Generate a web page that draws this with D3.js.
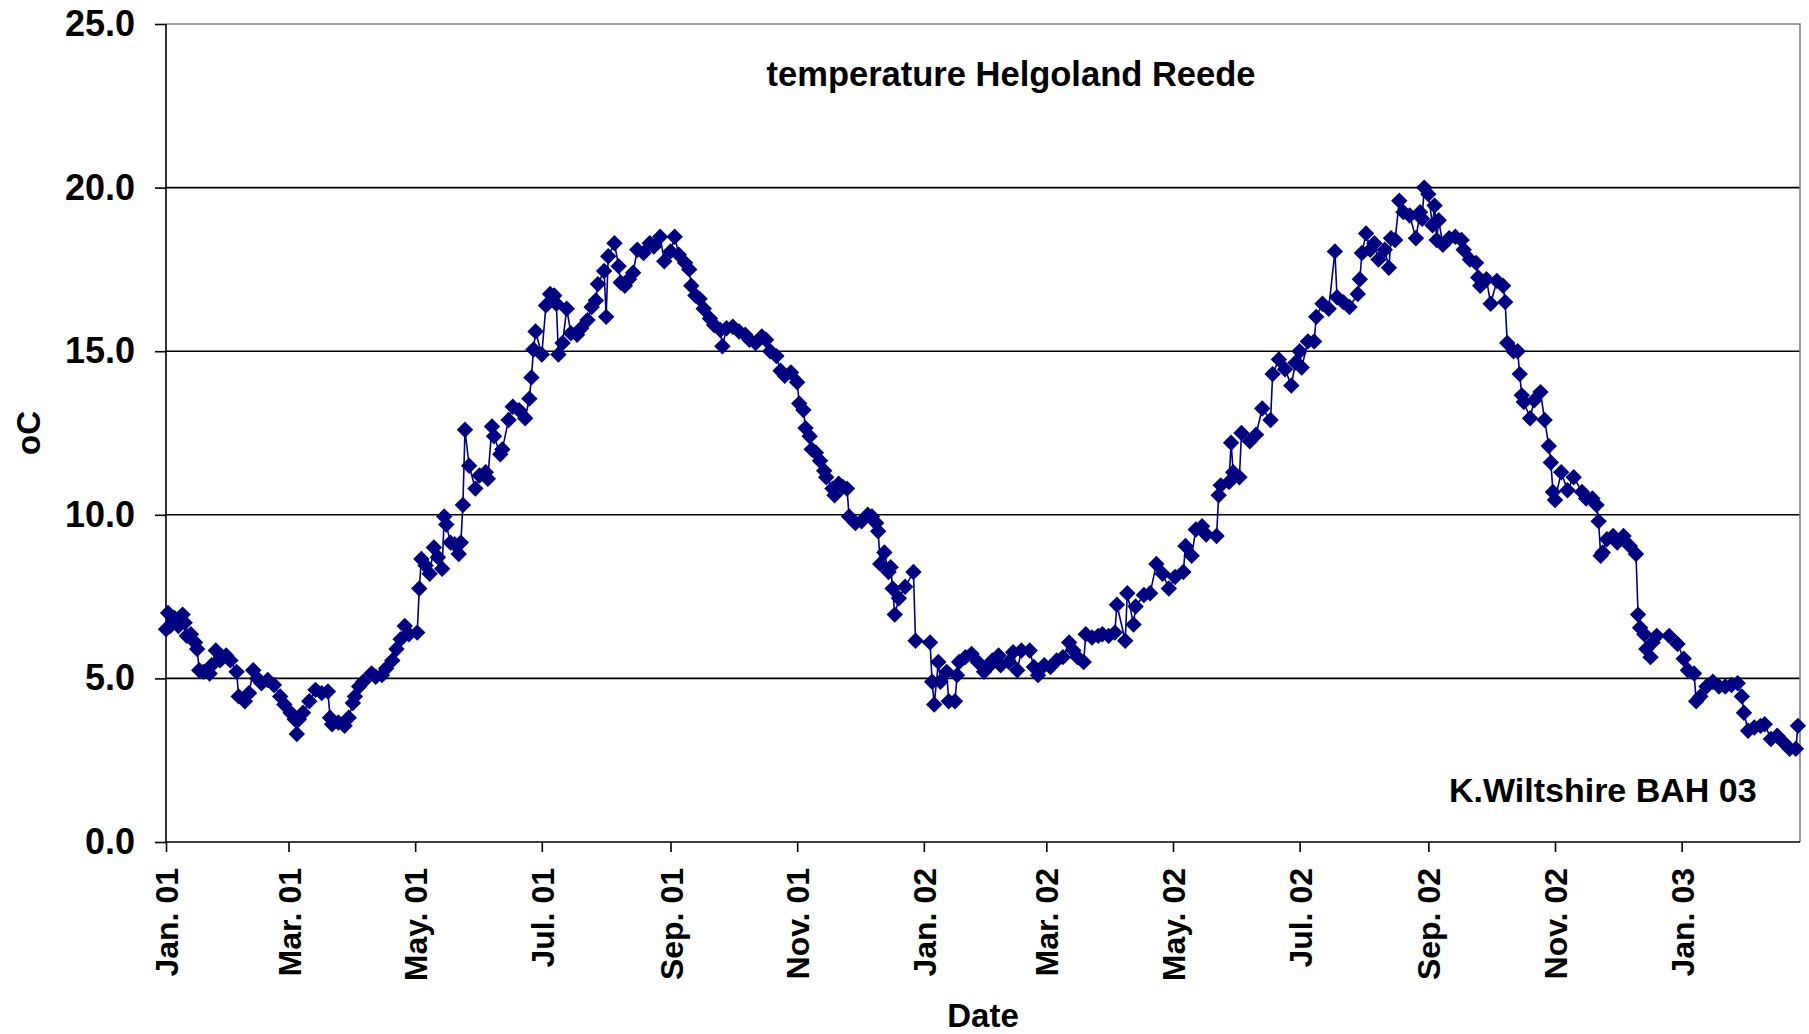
<!DOCTYPE html>
<html>
<head>
<meta charset="utf-8">
<script src="https://cdn.jsdelivr.net/npm/d3@7"></script>
<style>
  html, body { margin: 0; padding: 0; background: #fff; }
  svg { display: block; font-family: "Liberation Sans", Arial, sans-serif; font-weight: bold; }
</style>
</head>
<body>
<div id="chart"></div>
<script>
// days since 1 Jan 2001 and water temperature in oC
const sampleDay = [
  0,1,2,4,6,8,9,10,12,14,15,16,18,21,22,24,26,29,31,34,35,38,40,42,44,46,49,52,55,57,
  60,62,63,64,66,69,72,75,78,79,80,83,86,88,90,91,93,95,99,101,104,106,109,111,113,115,117,
  121,122,123,125,127,129,131,133,134,135,137,139,141,142,143,144,146,149,151,154,155,157,158,
  161,162,165,167,170,173,175,176,177,178,181,183,185,187,188,189,191,193,195,198,200,203,205,
  207,208,211,212,213,216,218,219,221,223,225,
  227,230,233,235,238,240,243,245,247,250,252,253,255,257,259,262,264,267,268,270,273,276,279,
  281,284,287,289,291,294,296,298,301,304,305,307,308,310,311,313,315,317,318,321,322,324,326,
  328,329,332,335,338,
  340,342,343,344,346,348,349,350,351,353,356,360,361,368,369,370,372,373,376,377,380,381,382,
  385,388,391,394,396,398,401,402,406,408,410,412,416,418,420,423,426,429,432,435,437,439,442,
  443,446,449,
  451,454,457,458,462,463,466,467,471,474,477,480,483,486,490,491,494,496,499,501,506,507,508,
  512,513,514,517,518,522,525,528,532,533,536,539,542,544,546,547,550,553,554,557,560,563,
  564,567,570,574,575,576,578,580,582,584,587,589,590,592,594,596,599,602,604,605,606,608,610,
  611,612,613,615,618,621,624,625,628,631,632,633,636,638,641,644,645,646,649,651,652,653,654,
  657,659,662,664,666,667,668,669,672,675,678,
  682,684,687,689,690,691,692,694,697,699,702,705,708,709,710,712,713,715,716,718,724,728,731,
  733,736,737,739,742,745,748,751,754,757,759,760,762,765,768,770,773,776,779,782,785,786
];
const tempC = [
  6.5,7.0,6.6,6.85,6.6,6.95,6.7,6.3,6.35,6.1,5.9,5.25,5.2,5.15,5.4,5.85,5.55,5.7,5.55,5.2,4.45,4.3,4.55,5.25,5.0,4.85,4.95,4.8,4.45,4.2,
  3.95,3.75,3.3,3.75,3.95,4.3,4.65,4.55,4.6,3.8,3.6,3.65,3.55,3.8,4.25,4.45,4.75,4.9,5.15,5.05,5.1,5.3,5.55,5.9,6.2,6.6,6.35,
  6.4,7.75,8.65,8.45,8.2,9.0,8.7,8.35,9.95,9.7,9.15,9.1,8.8,9.15,10.3,12.6,11.5,10.8,11.2,11.3,11.1,12.7,12.4,
  11.85,12.0,12.9,13.3,13.2,12.95,13.55,14.2,15.05,15.6,14.9,16.4,16.75,16.7,16.45,14.9,15.25,16.3,15.55,15.5,15.7,15.95,16.35,
  16.55,17.05,17.45,16.05,17.9,18.3,17.6,17.1,17.0,17.2,17.4,
  18.1,18.0,18.3,18.2,18.5,17.75,18.05,18.5,17.95,17.7,17.5,17.0,16.7,16.6,16.3,16.0,15.8,15.65,15.15,15.7,15.75,15.6,15.5,
  15.35,15.25,15.45,15.35,15.0,14.85,14.4,14.25,14.35,14.05,13.4,13.2,12.65,12.4,12.0,11.9,11.65,11.35,11.15,10.8,10.6,10.95,10.85,
  10.8,9.95,9.75,9.8,10.0,
  9.95,9.75,9.5,8.5,8.85,8.25,8.4,7.75,6.95,7.45,7.8,8.25,6.15,6.1,4.9,4.2,5.5,4.9,5.2,4.3,4.3,5.1,5.5,
  5.65,5.75,5.5,5.2,5.35,5.55,5.7,5.4,5.5,5.8,5.25,5.85,5.85,5.35,5.1,5.4,5.35,5.55,5.65,6.1,5.85,5.65,5.5,
  6.35,6.25,6.3,
  6.35,6.3,6.4,7.25,6.15,7.6,6.65,7.2,7.55,7.6,8.5,8.2,7.75,8.1,8.25,9.05,8.75,9.55,9.65,9.4,9.35,10.6,10.9,
  11.0,12.2,11.3,11.15,12.5,12.25,12.45,13.25,12.9,14.3,14.75,14.45,13.95,14.65,15.0,14.5,15.3,15.3,16.05,16.45,16.3,18.05,
  16.65,16.5,16.35,16.75,17.2,18.0,18.6,18.1,18.3,17.8,18.1,17.55,18.45,18.4,19.6,19.25,19.15,18.45,19.25,19.05,20.0,19.8,18.85,
  19.45,18.4,19.0,18.25,18.45,18.5,18.4,18.1,17.8,17.7,17.25,17.0,17.2,16.45,17.15,17.0,16.5,15.25,15.0,15.0,14.3,13.65,13.45,
  12.95,13.5,13.75,12.9,12.1,11.6,10.7,10.45,11.3,10.75,11.15,
  10.7,10.5,10.5,10.3,9.8,8.75,8.85,9.25,9.35,9.15,9.35,9.05,8.8,6.95,6.55,6.35,5.9,5.65,6.1,6.3,6.3,6.05,5.6,
  5.25,5.15,4.3,4.45,4.75,4.9,4.75,4.75,4.8,4.85,4.45,3.95,3.4,3.5,3.55,3.6,3.15,3.25,3.05,2.85,2.85,3.55
];
const yTicks = [0, 5, 10, 15, 20, 25];
const startDate = new Date(Date.UTC(2001, 0, 1));
const endDate = new Date(Date.UTC(2003, 1, 27));

const data = sampleDay.map((d, i) => ({
  date: new Date(Date.UTC(2001, 0, 1 + d)),
  value: tempC[i]
}));

const width = 1809, height = 1034;
const margin = { top: 24, right: 9, bottom: 192, left: 166 };
const navy = '#000080';

const svg = d3.select('#chart').append('svg').attr('width', width).attr('height', height);
svg.append('rect').attr('width', width).attr('height', height).attr('fill', '#fff');

const x = d3.scaleUtc().domain([startDate, endDate]).range([margin.left, width - margin.right]);
const y = d3.scaleLinear().domain([0, 25]).range([height - margin.bottom, margin.top]);

// gridlines
svg.append('g').selectAll('line').data(yTicks.filter(t => t > 0 && t < 25)).enter().append('line')
  .attr('x1', margin.left).attr('x2', width - margin.right)
  .attr('y1', d => y(d)).attr('y2', d => y(d))
  .attr('stroke', '#000').attr('stroke-width', 1.6);

// plot area border (top + right)
svg.append('path')
  .attr('d', `M${margin.left},${y(25)}H${width - margin.right}V${y(0)}`)
  .attr('fill', 'none').attr('stroke', '#808080').attr('stroke-width', 1.6);

// y axis
const yAxis = svg.append('g').attr('transform', `translate(${margin.left},0)`)
  .call(d3.axisLeft(y).tickValues(yTicks).tickSize(11).tickPadding(20).tickFormat(d3.format('.1f')));
yAxis.selectAll('line, path').attr('stroke', '#000').attr('stroke-width', 1.6);
yAxis.select('.domain').attr('d', `M0,${y(25)}V${y(0)}`);
yAxis.selectAll('text').attr('font-size', 36).attr('font-family', 'Liberation Sans, Arial').attr('font-weight', 'bold').attr('fill', '#000');

// x axis
const xAxis = svg.append('g').attr('transform', `translate(0,${y(0)})`)
  .call(d3.axisBottom(x).ticks(d3.utcMonth.every(2)).tickSize(10).tickFormat(d3.utcFormat('%b. %y')));
xAxis.selectAll('line, path').attr('stroke', '#000').attr('stroke-width', 1.6);
xAxis.select('.domain').attr('d', `M${margin.left},0H${width - margin.right}`);
xAxis.selectAll('text')
  .attr('font-size', 32).attr('font-family', 'Liberation Sans, Arial').attr('font-weight', 'bold').attr('fill', '#000')
  .attr('transform', 'rotate(-90)')
  .attr('x', -26).attr('y', 0).attr('dy', '0.36em')
  .style('text-anchor', 'end');

// series line
svg.append('path').datum(data)
  .attr('fill', 'none').attr('stroke', navy).attr('stroke-width', 1.6)
  .attr('d', d3.line().x(d => x(d.date)).y(d => y(d.value)));

// diamond markers
const diamond = d3.symbol().type(d3.symbolSquare).size(135);
svg.append('g').selectAll('path').data(data).enter().append('path')
  .attr('d', diamond)
  .attr('transform', d => `translate(${x(d.date)},${y(d.value)}) rotate(45)`)
  .attr('fill', navy);

// texts
svg.append('text').attr('x', 1011).attr('y', 86).attr('text-anchor', 'middle')
  .attr('font-size', 34.5).text('temperature Helgoland Reede');
svg.append('text').attr('x', 1449).attr('y', 802)
  .attr('font-size', 34).text('K.Wiltshire BAH 03');
svg.append('text').attr('x', 983).attr('y', 1027).attr('text-anchor', 'middle')
  .attr('font-size', 33).text('Date');
svg.append('text').attr('transform', `translate(40,${(y(0) + y(25)) / 2 - 0}) rotate(-90)`)
  .attr('text-anchor', 'middle').attr('font-size', 33).text('oC');
</script>
</body>
</html>
